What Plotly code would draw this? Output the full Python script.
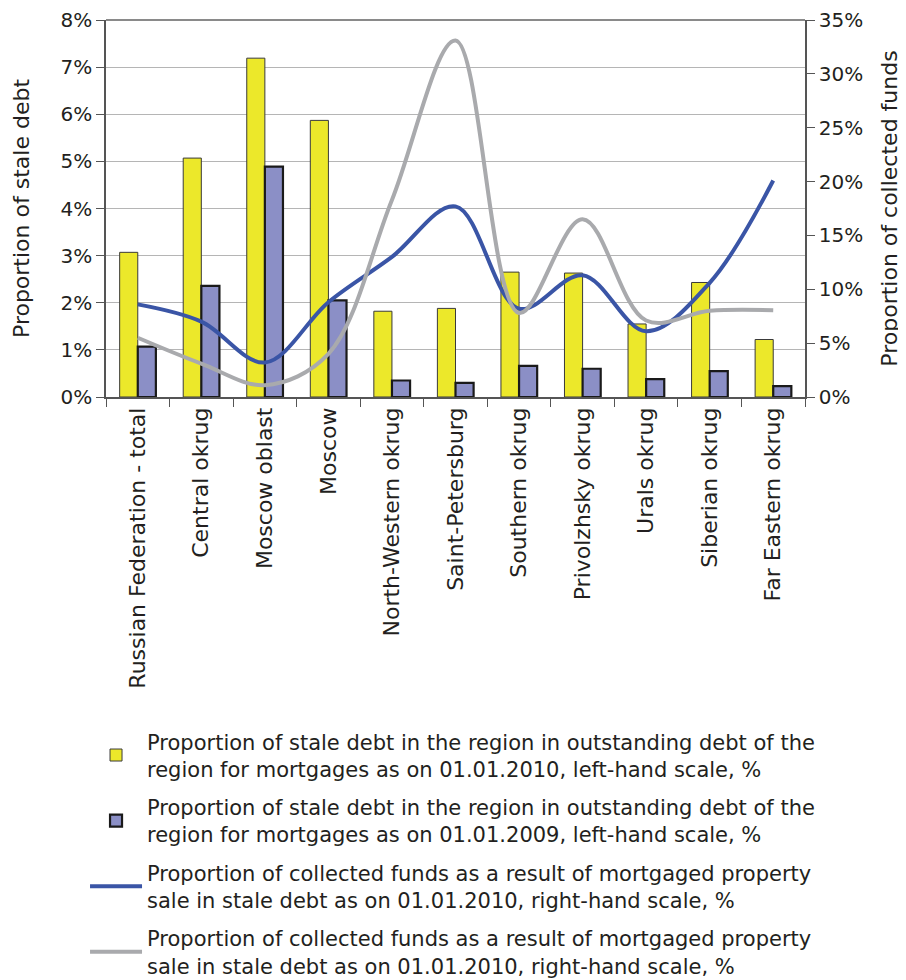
import plotly.graph_objects as go

categories = ["Russian Federation - total", "Central okrug", "Moscow oblast", "Moscow",
              "North-Western okrug", "Saint-Petersburg", "Southern okrug", "Privolzhsky okrug",
              "Urals okrug", "Siberian okrug", "Far Eastern okrug"]
stale_2010 = [3.07, 5.07, 7.19, 5.87, 1.82, 1.88, 2.65, 2.63, 1.55, 2.43, 1.22]
stale_2009 = [1.07, 2.36, 4.89, 2.05, 0.35, 0.30, 0.66, 0.60, 0.38, 0.55, 0.23]
funds_blue = [8.6, 7.0, 3.2, 8.8, 13.0, 17.7, 8.2, 11.3, 6.1, 10.6, 20.1]
funds_gray = [5.5, 3.1, 1.1, 4.0, 18.3, 33.1, 7.8, 16.5, 7.1, 8.0, 8.05]

left_range = [0, 8]
right_range = [0, 35]

names = [
    "Proportion of stale debt in the region in outstanding debt of the<br>region for mortgages as on 01.01.2010, left-hand scale, %",
    "Proportion of stale debt in the region in outstanding debt of the<br>region for mortgages as on 01.01.2009, left-hand scale, %",
    "Proportion of collected funds as a result of mortgaged property<br>sale in stale debt as on 01.01.2010, right-hand scale, %",
    "Proportion of collected funds as a result of mortgaged property<br>sale in stale debt as on 01.01.2010, right-hand scale, %",
]

FONT = "DejaVu Sans"
TXT = "#231F20"

fig = go.Figure()
fig.add_trace(go.Bar(x=categories, y=stale_2010, name=names[0], legendgroup="a",
                     marker=dict(color="#ECE82A", line=dict(color="#3a3a3a", width=1))))
fig.add_trace(go.Bar(x=categories, y=stale_2009, name=names[1], legendgroup="b",
                     marker=dict(color="#8B8FC6", line=dict(color="#1a1a1a", width=2.2))))
fig.add_trace(go.Scatter(x=categories, y=funds_blue, name=names[2], yaxis="y2", legendgroup="c",
                         mode="lines", line=dict(color="#3A55A6", width=4, shape="spline", smoothing=1)))
fig.add_trace(go.Scatter(x=categories, y=funds_gray, name=names[3], yaxis="y2", legendgroup="d",
                         mode="lines", line=dict(color="#A9AAAD", width=4, shape="spline", smoothing=1)))

# page body has an 8px margin, so the figure is drawn at (8, 8)
fig.update_layout(
    width=898, height=972,
    margin=dict(l=98, r=101, t=12, b=583, autoexpand=False),
    paper_bgcolor="white", plot_bgcolor="white",
    font=dict(family=FONT, size=20, color=TXT),
    barmode="group", bargap=0.43, bargroupgap=0,
    showlegend=True,
    legend=dict(x=-0.03, y=-0.86, xanchor="left", yanchor="top",
                font=dict(family=FONT, size=21, color=TXT),
                tracegroupgap=8, itemwidth=52, traceorder="grouped"),
    xaxis=dict(type="category", tickangle=-90, showgrid=False, automargin=False,
               showline=True, linecolor="#555555", linewidth=1.5,
               ticks="outside", tickson="boundaries", ticklen=8, tickcolor="#555555",
               tickfont=dict(size=22)),
    yaxis=dict(range=left_range, tick0=0, dtick=1, ticksuffix="%", automargin=False,
               showgrid=True, gridcolor="#B5B5B5", gridwidth=1,
               showline=True, linecolor="#555555", linewidth=1.5,
               ticks="outside", ticklen=8, tickcolor="#555555",
               tickfont=dict(size=20),
               title=dict(text="Proportion of stale debt", font=dict(size=22), standoff=25),
               zeroline=False),
    yaxis2=dict(range=right_range, tick0=0, dtick=5, ticksuffix="%", overlaying="y", side="right",
                automargin=False,
                showgrid=False, showline=True, linecolor="#555555", linewidth=1.5,
                ticks="outside", ticklen=8, tickcolor="#555555",
                tickfont=dict(size=20),
                title=dict(text="Proportion of collected funds", font=dict(size=22), standoff=19),
                zeroline=False),
)
fig.add_shape(type="line", xref="paper", yref="paper", x0=0, x1=1, y0=1, y1=1,
              line=dict(color="#8a8a8a", width=2))

fig.write_html("out.html")
